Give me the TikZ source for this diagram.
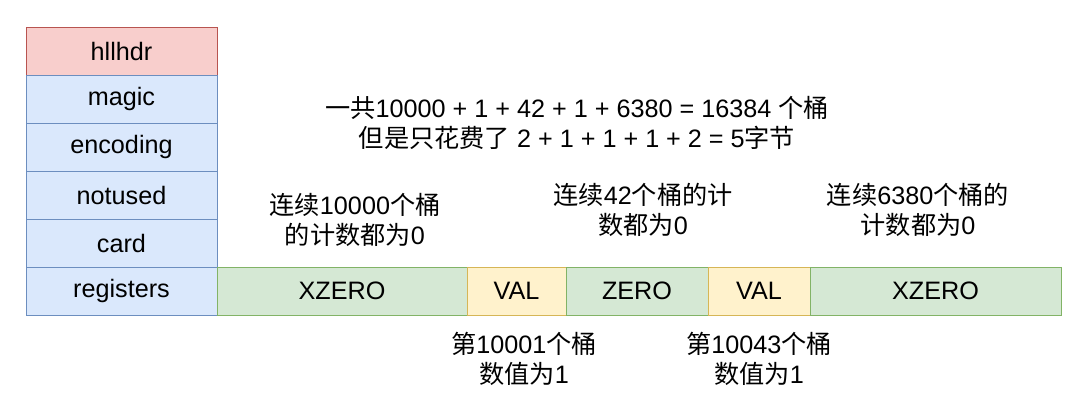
\documentclass[tikz,border=0pt]{standalone}
\usepackage{fontspec}
\setmainfont{Liberation Sans}
\newfontfamily\cjk{Noto Sans CJK SC}
\newcommand{\zh}[1]{{\cjk #1}}
\usetikzlibrary{positioning}
\definecolor{hdrfill}{HTML}{F8CECC}\definecolor{hdrline}{HTML}{B85450}
\definecolor{bluefill}{HTML}{DAE8FC}\definecolor{blueline}{HTML}{6C8EBF}
\definecolor{greenfill}{HTML}{D5E8D4}\definecolor{greenline}{HTML}{82B366}
\definecolor{yellowfill}{HTML}{FFF2CC}\definecolor{yellowline}{HTML}{D6B656}
\tikzset{
  field/.style={draw=blueline,fill=bluefill,minimum width=95.5pt,minimum height=24pt,outer sep=0pt,inner sep=0pt},
  zerobox/.style={draw=greenline,fill=greenfill,minimum height=24pt,outer sep=0pt,inner sep=0pt},
  valbox/.style={draw=yellowline,fill=yellowfill,minimum height=24pt,outer sep=0pt,inner sep=0pt},
  note/.style={align=center,inner sep=0pt}
}
\begin{document}
\begin{tikzpicture}[x=0.5pt,y=-0.5pt,node distance=0pt,font=\fontsize{12.6}{15}\selectfont]
\useasboundingbox (0,0) rectangle (1080,404);
% header fields
\node[field,draw=hdrline,fill=hdrfill] (hllhdr) at (121.5,51) {hllhdr};
\node[field,below=of hllhdr] (magic) {magic};
\node[field,below=of magic] (encoding) {encoding};
\node[field,below=of encoding] (notused) {notused};
\node[field,below=of notused] (card) {card};
\node[field,below=of card] (registers) {registers};
% registers
\node[zerobox,minimum width=125pt,right=of registers] (xzeroA) {XZERO};
\node[valbox,minimum width=49.5pt,right=of xzeroA] (valA) {VAL};
\node[zerobox,minimum width=71pt,right=of valA] (zero) {ZERO};
\node[valbox,minimum width=51pt,right=of zero] (valB) {VAL};
\node[zerobox,minimum width=125.5pt,right=of valB] (xzeroB) {XZERO};
% notes
\node[note] (sum) at (577,123) {\zh{一共}10000 + 1 + 42 + 1 + 6380 = 16384 \zh{个桶}\\\zh{但是只花费了} 2 + 1 + 1 + 1 + 2 = 5\zh{字节}};
\node[note] (noteA) at (355,220) {\zh{连续}10000\zh{个桶}\\\zh{的计数都为}0};
\node[note] (noteB) at (643,210) {\zh{连续}42\zh{个桶的计}\\\zh{数都为}0};
\node[note] (noteC) at (918,210) {\zh{连续}6380\zh{个桶的}\\\zh{计数都为}0};
\node[note] (noteD) at (524,359) {\zh{第}10001\zh{个桶}\\\zh{数值为}1};
\node[note] (noteE) at (759,359) {\zh{第}10043\zh{个桶}\\\zh{数值为}1};
\end{tikzpicture}
\end{document}
